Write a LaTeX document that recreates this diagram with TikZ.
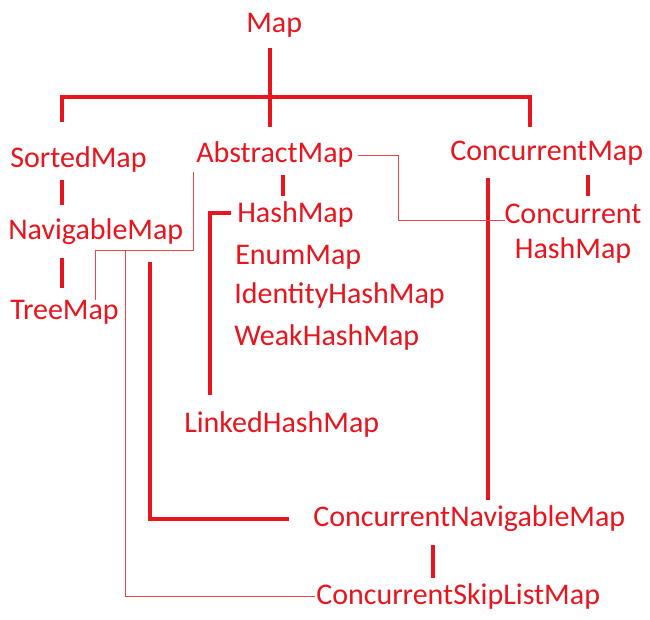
\documentclass[tikz,border=0pt]{standalone}
\usepackage{fontspec}
\setmainfont{Carlito}
\usetikzlibrary{positioning}
\definecolor{mapred}{HTML}{E8141E}

\begin{document}
\begin{tikzpicture}[
    x=0.75pt, y=-0.75pt,
    % GLOBAL CFG
    font=\fontsize{22.5}{26}\selectfont,
    % Styles
    cls/.style={% For class names
        text=mapred,
        inner sep=0pt,
        anchor=west,
    },
    thickline/.style={% Bold links
        draw=mapred,
        line width=3pt,
    },
    thinline/.style={% Thin links
        draw=mapred!80,
        line width=0.6pt,
    },
    ]
    \useasboundingbox (0,0) rectangle (650,620);

    % Nodes
    \node[cls] (map) at (246,25) {Map};
    \node[cls] (sorted) at (10,160) {SortedMap};
    \node[cls] (abstract) at (196,155) {AbstractMap};
    \node[cls] (concurrent) at (450,153) {ConcurrentMap};
    \node[cls] (navigable) at (8,232) {NavigableMap};
    \node[cls] (tree) at (10,312) {TreeMap};
    \node[cls] (hash) at (237,215) {HashMap};
    \node[cls] (enum) at (235,257) {EnumMap};
    \node[cls] (identity) at (234,296) {IdentityHashMap};
    \node[cls] (weak) at (234,338) {WeakHashMap};
    \node[cls] (linked) at (184,425) {LinkedHashMap};
    \node[cls, anchor=center, align=center, font=\fontsize{22.5}{26}\selectfont]
        (chm) at (573,234) {Concurrent\\HashMap};
    \node[cls] (cnm) at (313,519) {ConcurrentNavigableMap};
    \node[cls] (csl) at (316,596) {ConcurrentSkipListMap};

    % Coordinates
    \coordinate (mapbar) at (270,97);
    \coordinate (barL) at (62,97);
    \coordinate (barR) at (530,97);

    % Thick links
    \draw[thickline] (270,48) -- (mapbar);
    \draw[thickline] (barL) ++(0,25) -- (barL) -- (barR) -- ++(0,30);
    \draw[thickline] (mapbar) -- ++(0,30);
    \draw[thickline] (62,180) -- (62,205);
    \draw[thickline] (62,258) -- (62,288);
    \draw[thickline] (283,175) -- (283,196);
    \draw[thickline] (588,175) -- (588,196);
    \draw[thickline] (hash.west) ++(-6,-2) -| (210,395);
    \draw[thickline] (488,178) -- (488,500);
    \draw[thickline] (150,262) |- ([xshift=-18pt]cnm.west);
    \draw[thickline] (433,545) -- (433,578);

    % Thin links
    \draw[thinline] ([xshift=3pt]abstract.east) -- (398,155) |- (505,220);
    \draw[thinline] (193,172) |- (95,250) -- (95,300);
    \draw[thinline] (125,250) |- ([xshift=-1pt]csl.west);
\end{tikzpicture}
\end{document}
